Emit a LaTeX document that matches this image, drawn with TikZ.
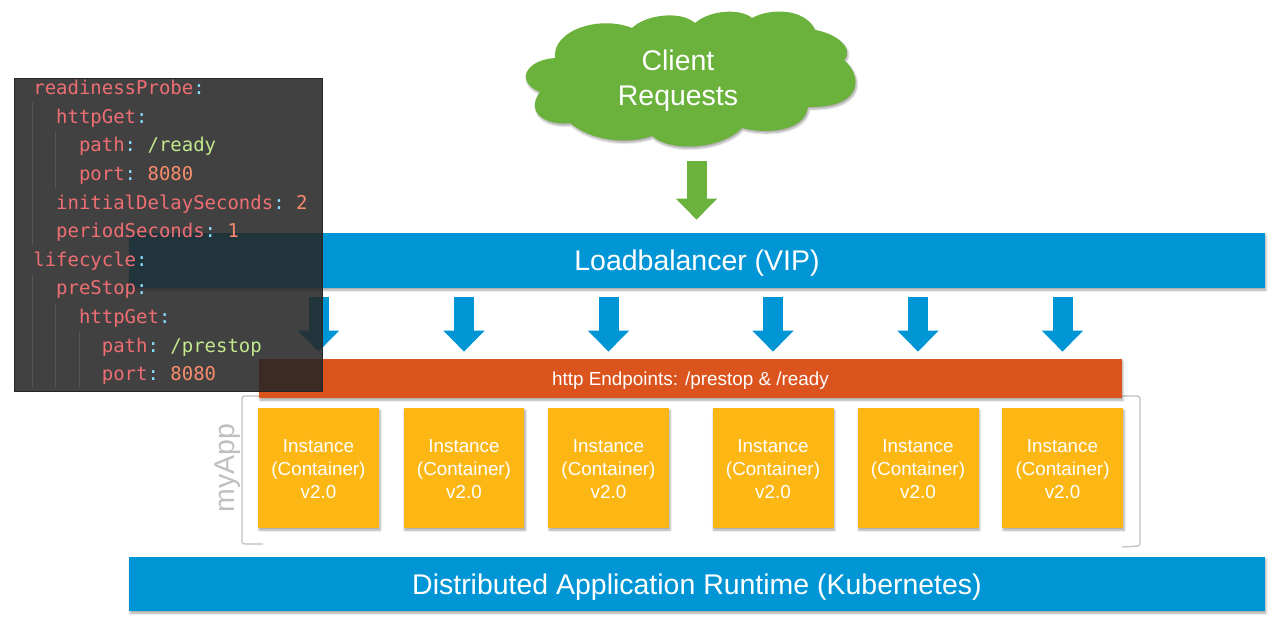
\documentclass[tikz,border=0pt]{standalone}
\usepackage{fontspec}
\setmainfont{Liberation Sans}
\newfontfamily\codefont{DejaVu Sans Mono}
\usepackage{xcolor}
\usetikzlibrary{positioning,calc,shadows.blur,arrows.meta}

\definecolor{lbblue}{HTML}{0096D6}
\definecolor{cloudgreen}{HTML}{6BB23C}
\definecolor{httporange}{HTML}{DB541E}
\definecolor{podyellow}{HTML}{FDB714}
\definecolor{brackgray}{HTML}{BFBFBF}
\definecolor{panelgray}{HTML}{262626}
\definecolor{guidegray}{HTML}{565656}
\definecolor{codekey}{HTML}{EE6E73}
\definecolor{codecolon}{HTML}{89DDFF}
\definecolor{codestr}{HTML}{C3E88D}
\definecolor{codenum}{HTML}{F78C6C}

\newcommand{\ykey}[1]{\textcolor{codekey}{#1}\textcolor{codecolon}{:}}
\newcommand{\ystr}[1]{\textcolor{codestr}{#1}}
\newcommand{\ynum}[1]{\textcolor{codenum}{#1}}
\newcommand{\yind}[1]{\phantom{#1}}

\tikzset{
    softshadow/.style={blur shadow={shadow xshift=0.6pt,shadow yshift=-1.2pt,shadow blur radius=1.2pt,shadow blur steps=6,shadow opacity=35}},
    band/.style={fill=lbblue,text=white,minimum width=22.72cm,inner sep=0pt,text depth=0pt,softshadow,font=\fontsize{16.2}{19}\selectfont},
    httpbar/.style={fill=httporange,text=white,minimum width=17.26cm,minimum height=0.78cm,inner sep=0pt,text depth=0pt,softshadow,font=\fontsize{10.75}{13}\selectfont},
    instance/.style={fill=podyellow,text=white,minimum width=2.42cm,minimum height=2.4cm,inner sep=0pt,align=center,softshadow,font=\fontsize{10.7}{13.1}\selectfont},
    flow/.style={line width=0.4cm,-{Triangle[width=0.8cm,length=0.42cm]}},
    bracket/.style={draw=brackgray,line width=0.7pt,rounded corners=0.05cm},
    codepanel/.style={fill=panelgray,fill opacity=0.875,draw=panelgray,line width=0.5pt,minimum width=6.16cm,minimum height=6.26cm,inner sep=0pt},
    guide/.style={draw=guidegray,line width=0.5pt}
}

\begin{document}
\begin{tikzpicture}[x=0.02cm,y=-0.02cm]
    \useasboundingbox (0,0) rectangle (1280,619);

    % Cloud
    \fill[cloudgreen,softshadow] (555,58)
        .. controls (552,30) and (600,15) .. (632,28)
        .. controls (645,15) and (680,10) .. (695,23)
        .. controls (710,10) and (740,8) .. (752,18)
        .. controls (770,8) and (805,8) .. (815,30)
        .. controls (835,33) and (855,48) .. (844,60)
        .. controls (862,75) and (865,108) .. (808,107)
        .. controls (805,130) and (770,135) .. (742,128)
        .. controls (720,150) and (670,152) .. (652,136)
        .. controls (625,145) and (590,140) .. (570,123)
        .. controls (545,126) and (525,112) .. (540,92)
        .. controls (515,82) and (525,60) .. cycle;
    \node[text=white,align=center,inner sep=0pt,font=\fontsize{16.2}{19.8}\selectfont] (client) at (678,81) {Client\\Requests};
    \coordinate (cloudbase) at (696.5,147);

    % Bands
    \node[band,minimum height=1.1cm] (lb) at (697,260.5) {Loadbalancer (VIP)};
    \node[band,minimum height=1.08cm] (runtime) at (697,584) {Distributed Application Runtime (Kubernetes)};
    \draw[flow,draw=cloudgreen,shorten <=0.28cm,shorten >=0.26cm] (cloudbase) -- (cloudbase |- lb.north);

    % myApp
    \draw[bracket] (263,544) -- (242,544) -- (242,396) -- (259,396);
    \draw[bracket] (1122,396) -- (1140,396) -- (1140,546) -- (1122,547);
    \node[text=brackgray,rotate=90,inner sep=0pt,font=\fontsize{16.2}{19}\selectfont] (myapp) at (228,468) {myApp};
    \node[httpbar] (http) at (690.5,378.5) {http Endpoints: /prestop \& /ready};
    \foreach \x/\n in {318.5/ia,464/ib,608.5/ic,773/id,918/ie,1062.5/ig} {
        \node[instance] (\n) at (\x,468) {\rule{0pt}{9pt}Instance\\(Container)\\v2.0};
        \draw[flow,draw=lbblue,shorten <=0.18cm,shorten >=0.14cm] (\n.north |- lb.south) -- (\n.north |- http.north);
    }

    % Probes
    \node[codepanel] (probe) at (168,234.5) {};
    \draw[guide] (32,102) -- (32,245);
    \draw[guide] (55,132) -- (55,188);
    \draw[guide] (32,275) -- (32,387);
    \draw[guide] (55,303) -- (55,387);
    \draw[guide] (79,332) -- (79,387);
    \node[anchor=north west,align=left,inner sep=0pt,font=\codefont\frenchspacing\fontsize{10.8}{16.27}\selectfont] (probetext) at (33,80) {%
        \ykey{readinessProbe}\\
        \yind{xx}\ykey{httpGet}\\
        \yind{xxxx}\ykey{path} \ystr{/ready}\\
        \yind{xxxx}\ykey{port} \ynum{8080}\\
        \yind{xx}\ykey{initialDelaySeconds} \ynum{2}\\
        \yind{xx}\ykey{periodSeconds} \ynum{1}\\
        \ykey{lifecycle}\\
        \yind{xx}\ykey{preStop}\\
        \yind{xxxx}\ykey{httpGet}\\
        \yind{xxxxxx}\ykey{path} \ystr{/prestop}\\
        \yind{xxxxxx}\ykey{port} \ynum{8080}};
\end{tikzpicture}
\end{document}
